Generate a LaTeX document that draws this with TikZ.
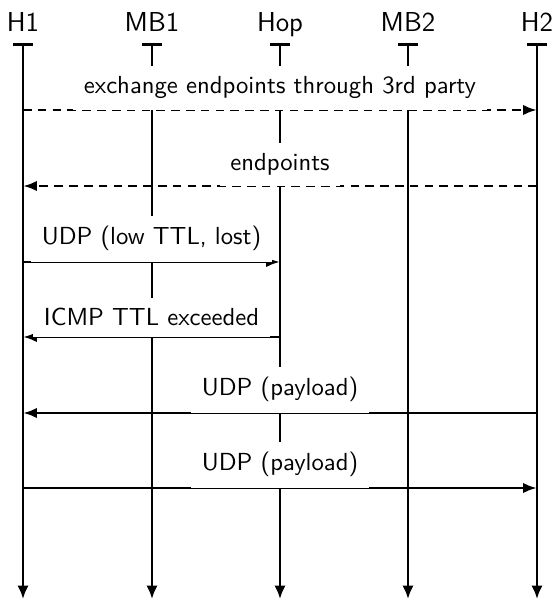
\documentclass[tikz,border=0pt]{standalone}
\usetikzlibrary{arrows.meta}
\begin{document}
\begin{tikzpicture}[x=0.405pt,y=-0.405pt,
  hdr/.style={font=\sffamily\fontsize{11.1}{13}\selectfont, anchor=base, inner sep=0pt},
  life/.style={line width=1.15pt, {Bar[width=8.3pt]}-{Latex[length=5.4pt,width=4.6pt]}},
  msg/.style={line width=1.15pt, -{Latex[length=5.6pt,width=4.2pt]}},
  dmsg/.style={msg, dash pattern=on 3.5pt off 2.5pt},
  lbl/.style={anchor=south, fill=white, inner sep=4.25pt, font=\sffamily\fontsize{10}{12}\selectfont}]
\useasboundingbox (0,0) rectangle (556,600);
\foreach \n/\x/\t in {h1/23/H1, mbA/152/MB1, hop/280/Hop, mbB/408/MB2, h2/537/H2} {
  \node[hdr] (\n) at (\x,32) {\t};
  \coordinate (\n t) at (\x,43);
  \coordinate (\n b) at (\x,599);
  \draw[life] (\n t) -- (\n b);
}
\coordinate (y1) at (0,110);
\coordinate (y2) at (0,186);
\coordinate (y3) at (0,262);
\coordinate (y4) at (0,337);
\coordinate (y5) at (0,413);
\coordinate (y6) at (0,488);
% 1
\draw[dmsg] (h1t|-y1) -- (h2t|-y1);
\path (h1t|-y1) -- node[lbl] (m1) {exchange endpoints through 3rd party} (h2t|-y1);
% 2
\draw[dmsg] (h2t|-y2) -- (h1t|-y2);
\path (h1t|-y2) -- node[lbl] (m2) {endpoints} (h2t|-y2);
% 3
\draw[msg] (h1t|-y3) -- (hopt|-y3);
\path (h1t|-y3) -- node[lbl] (m3) {UDP (low TTL, lost)} (hopt|-y3);
% 4
\draw[msg] (hopt|-y4) -- (h1t|-y4);
\path (h1t|-y4) -- node[lbl] (m4) {ICMP TTL exceeded} (hopt|-y4);
% 5
\draw[msg] (h2t|-y5) -- (h1t|-y5);
\path (h1t|-y5) -- node[lbl] (m5) {UDP (payload)} (h2t|-y5);
% 6
\draw[msg] (h1t|-y6) -- (h2t|-y6);
\path (h1t|-y6) -- node[lbl] (m6) {UDP (payload)} (h2t|-y6);
\end{tikzpicture}
\end{document}
